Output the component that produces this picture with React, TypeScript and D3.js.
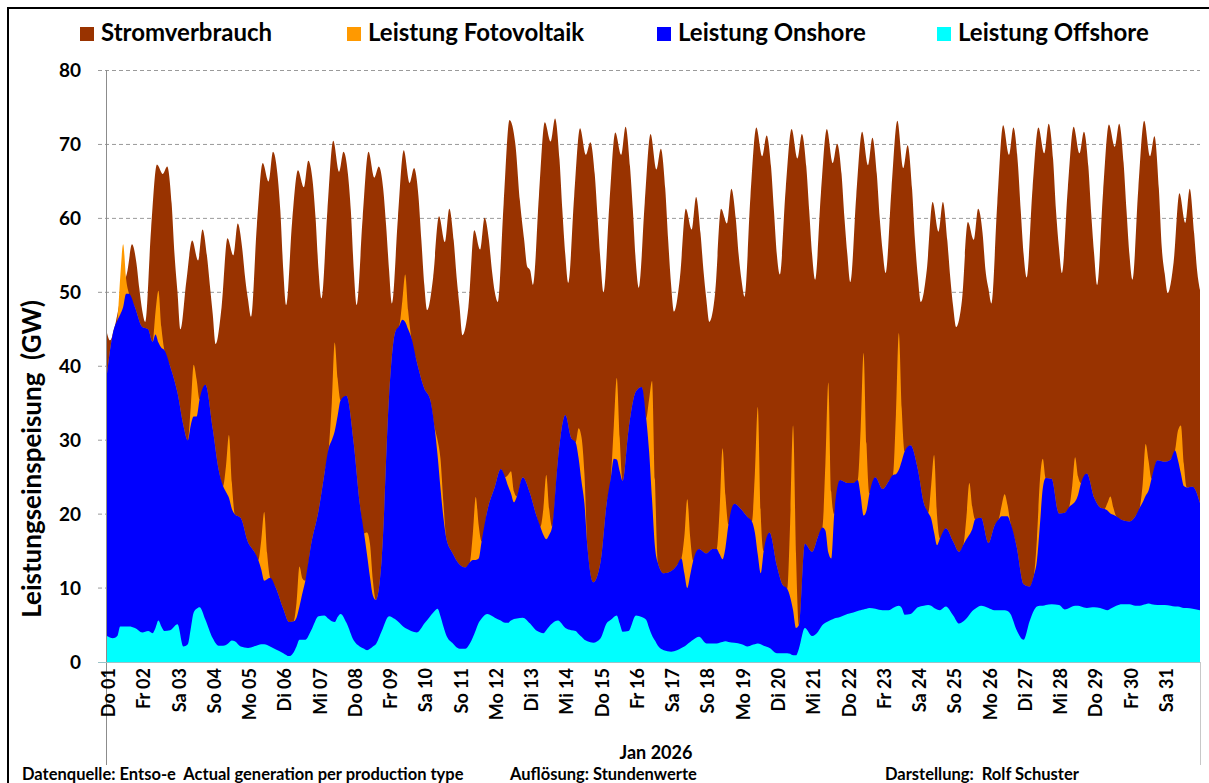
import React, { useEffect, useRef } from 'react';
import * as d3 from 'd3';

const dayLabels = ['Do 01', 'Fr 02', 'Sa 03', 'So 04', 'Mo 05', 'Di 06', 'Mi 07', 'Do 08', 'Fr 09', 'Sa 10',
  'So 11', 'Mo 12', 'Di 13', 'Mi 14', 'Do 15', 'Fr 16', 'Sa 17', 'So 18', 'Mo 19', 'Di 20', 'Mi 21',
  'Do 22', 'Fr 23', 'Sa 24', 'So 25', 'Mo 26', 'Di 27', 'Mi 28', 'Do 29', 'Fr 30', 'Sa 31'];
const yTicks = [0, 10, 20, 30, 40, 50, 60, 70, 80];
const seriesNames = ['Stromverbrauch', 'Leistung Fotovoltaik', 'Leistung Onshore', 'Leistung Offshore'];

// Stromverbrauch (GW) zu den Stunden loadHours
const loadHours = [0, 2, 6, 10, 14, 17, 20, 22];
const load = [
  [44.5, 43.5, 46, 50, 53, 56.5, 54, 50.5],
  [47.5, 46, 58.5, 67.3, 66, 67, 62, 55],
  [50, 45, 51.5, 57, 54.3, 58.5, 55, 51],
  [47, 43, 48, 57.3, 55, 59.3, 56, 52],
  [49, 46.7, 59, 67.5, 65, 69, 66, 61],
  [53, 48.3, 59.5, 66.5, 64.2, 67.8, 65, 60],
  [53, 49.2, 61, 70.5, 66.3, 69, 66, 61],
  [53, 48.3, 60, 69, 65.5, 67, 64, 59],
  [53, 48.5, 60, 69.2, 64.8, 66.8, 63, 57],
  [51, 47.6, 52, 60.3, 56.8, 61.3, 57, 52],
  [48, 44.2, 48, 58.4, 55.8, 60.1, 57, 53],
  [50, 48.7, 62, 73.3, 70, 62.5, 57, 53.5],
  [53, 51, 63, 73, 70.4, 73.5, 68, 61],
  [55, 51.3, 63, 72.2, 68.6, 70.3, 66, 60],
  [54, 50, 62, 71.6, 68.6, 72.4, 67, 61],
  [54, 50.6, 62, 71.4, 66.6, 69.4, 64, 57],
  [51, 47.4, 52, 61.3, 58.5, 62.9, 58, 53],
  [49, 46, 50, 61.3, 59.3, 64, 60, 55],
  [51.5, 49.4, 63, 72.3, 68.4, 71.2, 67, 61],
  [55, 52.4, 64, 72.1, 68.1, 71.4, 67, 61],
  [55, 51.7, 63.5, 72.1, 67.5, 70.1, 66, 60],
  [55, 51.4, 63, 71.7, 67.2, 70.9, 66, 60],
  [55.5, 52.6, 64, 73.2, 66.8, 69.9, 64, 57],
  [52, 48.7, 53, 62.2, 58.2, 62.2, 57, 52],
  [48, 45.3, 49, 59.5, 57.1, 61.3, 58, 53],
  [50.5, 48.5, 62, 72.6, 68.6, 72.3, 67.5, 61],
  [55, 52, 64, 72.3, 68.8, 72.8, 68, 61],
  [56, 52.6, 64, 72.4, 68.8, 71.7, 67, 60.5],
  [55, 51, 63.5, 72.7, 69.7, 72.8, 67.5, 61],
  [55, 51.7, 64, 73.2, 68.4, 71.1, 64, 56],
  [52.5, 49.9, 54, 63.4, 59.4, 64, 58, 53],
];
const loadEnd = 50.3;

// Erzeugung (GW) zu den Stunden genHours
const genHours = [0, 4, 7, 9, 11, 13, 15, 19];
const offshore = [
  [3.5, 3.2, 3.5, 4.8, 4.8, 4.8, 4.8, 4.6],
  [4, 4.2, 3.9, 4.6, 5.6, 4.8, 4.2, 4.3],
  [5.1, 2.1, 2.4, 4.5, 6.7, 7.2, 7.4, 5.7],
  [3.2, 2.2, 2.2, 2.3, 2.6, 2.9, 2.8, 2.1],
  [1.9, 2.1, 2.3, 2.4, 2.4, 2.3, 2.1, 1.7],
  [1.2, 0.8, 1.3, 2.1, 3, 3, 3, 4.3],
  [6.2, 6.3, 5.8, 5.5, 5.4, 6.1, 6.5, 5.3],
  [2.9, 2.1, 1.8, 1.6, 1.8, 2.1, 2.4, 4.2],
  [6.2, 5.8, 5.3, 4.9, 4.6, 4.4, 4.2, 4],
  [5.2, 6.2, 6.9, 7.2, 6.2, 4.8, 3.6, 2.6],
  [1.8, 1.8, 2.5, 3.3, 4.3, 5.3, 5.9, 6.5],
  [6, 5.6, 5.3, 5.3, 5.6, 5.8, 5.9, 6],
  [5.2, 4.3, 4, 3.9, 4.3, 4.8, 5.2, 5.6],
  [4.6, 4.3, 4.2, 3.8, 3.4, 3, 2.8, 2.6],
  [3.2, 5.2, 5.7, 6.1, 6.3, 5.2, 4.1, 4.2],
  [6.3, 6.1, 5.7, 4.6, 3.6, 2.9, 2.2, 1.6],
  [1.4, 1.6, 1.9, 2.1, 2.4, 2.7, 3, 3.4],
  [2.5, 2.5, 2.5, 2.6, 2.7, 2.8, 2.7, 2.6],
  [2.4, 2.1, 2.3, 2.4, 2.5, 2.4, 2.2, 1.9],
  [1.2, 1.2, 1.2, 1.1, 0.9, 0.9, 1.8, 4.6],
  [3.5, 4.1, 5, 5.3, 5.5, 5.7, 5.9, 6.1],
  [6.5, 6.7, 6.9, 7, 7.1, 7.2, 7.3, 7.2],
  [7, 7, 7.3, 7.5, 7.6, 7.3, 6.4, 6.5],
  [7.4, 7.6, 7.7, 7.6, 7.3, 7.1, 7, 7.5],
  [6.3, 5.2, 5.5, 5.9, 6.4, 6.9, 7.2, 7.6],
  [7.3, 7, 7, 7, 7, 6.9, 6.5, 4.4],
  [3, 5.5, 7, 7.5, 7.6, 7.6, 7.7, 7.8],
  [7.7, 7.1, 7.3, 7.5, 7.6, 7.6, 7.5, 7.3],
  [7.4, 7.3, 7.1, 7, 7.2, 7.4, 7.6, 7.8],
  [7.8, 7.6, 7.6, 7.7, 7.8, 7.9, 7.8, 7.7],
  [7.7, 7.6, 7.5, 7.5, 7.4, 7.3, 7.3, 7.2],
];
const offshoreEnd = 7;

const onshore = [
  [35.5, 41.3, 42.7, 42.2, 43.2, 45, 45, 43.4],
  [41.3, 40.8, 39.4, 39.7, 37.6, 37.7, 38, 35.7],
  [31.3, 29.9, 27.6, 27.5, 26.5, 26, 28.1, 31.8],
  [28.3, 23.8, 21.6, 20.7, 19.6, 17.8, 17.2, 17.4],
  [14.3, 12.9, 11.5, 10.1, 8.6, 8.9, 9.3, 8.3],
  [6, 4.6, 4.2, 3.9, 4.5, 6.3, 8, 11.7],
  [14.3, 19.2, 23.2, 24.5, 25.8, 27.2, 28.9, 30.7],
  [26.6, 19.4, 15.6, 12.9, 9.7, 6.9, 6, 9.8],
  [29.8, 38.7, 40.2, 41.4, 41.4, 40.6, 39.8, 36.5],
  [31.8, 29.3, 24.8, 20.8, 17.3, 14.7, 13.1, 12.2],
  [11.4, 11, 11, 10.5, 9.5, 8.7, 10.4, 14.1],
  [17.7, 20.5, 19.7, 18.5, 17.2, 15.8, 16.5, 19],
  [17.6, 15.7, 14.3, 13.3, 12.3, 12.4, 13.1, 21.9],
  [28.8, 26, 25.5, 23.8, 21, 18.4, 12.9, 8.2],
  [10.4, 16.1, 19.3, 21.4, 21.1, 20.6, 20.4, 27.2],
  [30.3, 31.1, 27.3, 23.9, 18.4, 12.7, 11.2, 10.4],
  [10.9, 11.5, 12.1, 9.9, 7.6, 9.1, 10.7, 11.9],
  [12.2, 12.8, 12.8, 12, 11.2, 12.7, 15.9, 18.8],
  [18.2, 17.5, 16.7, 15.1, 12, 9.6, 12.8, 15.6],
  [11.8, 9.2, 8.7, 7.7, 6.1, 3.7, 3.2, 11.4],
  [11.4, 12.9, 13.2, 12.5, 9.3, 8.3, 14.1, 18.5],
  [17.7, 17.5, 17.7, 15.5, 12.7, 13.3, 15.5, 17.8],
  [16.4, 17.4, 18, 17.9, 18.4, 19.9, 22.1, 22.8],
  [18.6, 13.9, 12.5, 11.8, 10.2, 8.7, 9.7, 10.6],
  [10, 9.7, 10.4, 10.7, 10.8, 11.1, 12.1, 11.9],
  [8.8, 11.4, 12.3, 12.7, 12.7, 12.8, 12.3, 11.4],
  [7.5, 4.7, 4.8, 6.2, 10.9, 15.9, 17.2, 17],
  [12.4, 13.1, 13.7, 13.8, 14.1, 15, 16.7, 18.2],
  [14.8, 13.6, 13.6, 13.5, 12.9, 12.5, 12.1, 11.4],
  [11.2, 12.1, 13.3, 13.9, 14.7, 15.3, 17, 19.6],
  [19.4, 19.8, 21.1, 19.8, 18.1, 16.5, 16.3, 16.5],
];
const onshoreEnd = 14.5;

// Fotovoltaik (GW) um 9, 11 und 13 Uhr, sonst 0
const pvHours = [9, 11, 13];
const pv = [
  [5, 8.5, 2], [3, 7, 2.8], [2.5, 7, 5], [3.5, 8.5, 3.5], [4, 9.3, 3.5], [2, 5.4, 2],
  [5, 12, 5], [3, 4.5, 2], [2.5, 6.4, 2.5], [2, 4, 2], [3.5, 8.5, 4.5], [1.5, 3, 1.5],
  [3.5, 8.7, 3.5], [4, 6, 4], [4.5, 11, 4.5], [7, 16, 9], [5, 12, 5], [6, 15, 7],
  [8, 20, 8], [10, 25, 10], [9, 23, 9], [9, 22, 9], [8, 18.5, 7], [4.5, 10.5, 4],
  [3, 7, 3], [1.5, 3, 1.5], [3, 6, 4], [2.5, 6, 2.5], [1, 2.3, 1], [2.5, 7, 4], [4, 6.5, 3],
];

const colors = ['#993300', '#ff9900', '#0000ff', '#00ffff'];
const font = "Lato, 'Open Sans', Arial, sans-serif";

function Chart() {
  const ref = useRef<SVGSVGElement>(null);

  useEffect(() => {
    const svg = d3.select(ref.current);
    svg.selectAll('*').remove();

    const nDays = dayLabels.length;
    const x = d3.scaleLinear().domain([0, nDays * 24]).range([107, 1200]);
    const y = d3.scaleLinear().domain([0, 80]).range([662, 70.5]);

    const loadData: { t: number; v: number }[] = [];
    load.forEach((row, d) => row.forEach((v, i) => loadData.push({ t: d * 24 + loadHours[i], v })));
    loadData.push({ t: nDays * 24, v: loadEnd });

    const genData: { t: number; offshore: number; onshore: number; pv: number }[] = [];
    for (let d = 0; d < nDays; d++) {
      genHours.forEach((h, i) => {
        const pi = pvHours.indexOf(h);
        genData.push({
          t: d * 24 + h,
          offshore: offshore[d][i],
          onshore: onshore[d][i],
          pv: pi >= 0 ? pv[d][pi] : 0,
        });
      });
    }
    genData.push({ t: nDays * 24, offshore: offshoreEnd, onshore: onshoreEnd, pv: 0 });

    const stack = d3.stack<any>().keys(['offshore', 'onshore', 'pv']);
    const layers = stack(genData as any);

    svg.append('rect').attr('x', 0).attr('y', 0).attr('width', 1209).attr('height', 783).attr('fill', 'white');
    svg.append('rect')
      .attr('x', 8).attr('y', 8).attr('width', 1230).attr('height', 800)
      .attr('fill', 'none').attr('stroke', 'black').attr('stroke-width', 2);

    // gridlines
    svg.append('g')
      .selectAll('line')
      .data(yTicks.filter(v => v > 0))
      .join('line')
        .attr('x1', 98).attr('x2', 1200)
        .attr('y1', d => y(d)).attr('y2', d => y(d))
        .attr('stroke', '#9a9a9a').attr('stroke-width', 1)
        .attr('stroke-dasharray', '4,3');

    // areas
    const loadArea = d3.area<{ t: number; v: number }>()
      .x(d => x(d.t)).y0(y(0)).y1(d => y(d.v))
      .curve(d3.curveMonotoneX);
    svg.append('path').datum(loadData).attr('d', loadArea).attr('fill', colors[0]);

    const genArea = d3.area<any>()
      .x(d => x(d.data.t)).y0(y(0)).y1(d => y(d[1]))
      .curve(d3.curveMonotoneX);
    const layerColor: Record<string, string> = { pv: colors[1], onshore: colors[2], offshore: colors[3] };
    [...layers].reverse().forEach(layer => {
      svg.append('path').datum(layer).attr('d', genArea).attr('fill', layerColor[layer.key]);
    });

    // axis lines
    svg.append('line').attr('x1', 106.5).attr('x2', 106.5).attr('y1', 70).attr('y2', 765)
      .attr('stroke', '#8c8c8c').attr('stroke-width', 1);
    svg.append('line').attr('x1', 98).attr('x2', 1200).attr('y1', 662.5).attr('y2', 662.5)
      .attr('stroke', '#9cc3c8').attr('stroke-width', 1.2);
    svg.append('line').attr('x1', 1200.5).attr('x2', 1200.5).attr('y1', 662).attr('y2', 765)
      .attr('stroke', '#c8c8c8').attr('stroke-width', 1);

    // y labels
    svg.append('g')
      .selectAll('text')
      .data(yTicks)
      .join('text')
        .attr('x', 81).attr('y', d => y(d)).attr('dy', '0.36em')
        .attr('text-anchor', 'end')
        .style('font-family', font).style('font-weight', 700).style('font-size', '19px')
        .text(d => d);

    // x labels
    svg.append('g')
      .selectAll('text')
      .data(dayLabels)
      .join('text')
        .attr('transform', (d, i) => `translate(${x(i * 24)},668) rotate(-90)`)
        .attr('dy', '0.45em')
        .attr('text-anchor', 'end')
        .style('font-family', font).style('font-weight', 700).style('font-size', '18px')
        .text(d => d);

    // y title
    svg.append('text')
      .attr('transform', 'translate(41,459) rotate(-90)')
      .attr('text-anchor', 'middle')
      .style('font-family', font).style('font-weight', 700).style('font-size', '26px')
      .style('white-space', 'pre')
      .text('Leistungseinspeisung  (GW)');

    // legend
    const legendX = [80, 347, 657, 937];
    const legend = svg.append('g')
      .selectAll('g')
      .data(seriesNames)
      .join('g')
        .attr('transform', (d, i) => `translate(${legendX[i]},27)`);
    legend.append('rect').attr('width', 14).attr('height', 14).attr('fill', (d, i) => colors[i]);
    legend.append('text').attr('x', 21).attr('y', 14)
      .style('font-family', font).style('font-weight', 700).style('font-size', '24px')
      .text(d => d);

    // footer
    const foot = [
      { x: 656, y: 759, anchor: 'middle', size: 18, text: 'Jan 2026' },
      { x: 22, y: 780, anchor: 'start', size: 16.5, text: 'Datenquelle: Entso-e  Actual generation per production type' },
      { x: 510, y: 780, anchor: 'start', size: 16.5, text: 'Auflösung: Stundenwerte' },
      { x: 885, y: 780, anchor: 'start', size: 16.5, text: 'Darstellung:  Rolf Schuster' },
    ];
    svg.append('g')
      .selectAll('text')
      .data(foot)
      .join('text')
        .attr('x', d => d.x).attr('y', d => d.y)
        .attr('text-anchor', d => d.anchor)
        .style('font-family', font).style('font-weight', 700).style('font-size', d => d.size + 'px')
        .style('white-space', 'pre')
        .text(d => d.text);
  });

  return (
    <svg ref={ref} width={1209} height={783}
      style={{ position: 'absolute', left: 0, top: 0, display: 'block' }} />
  );
}

export default function App() {
  return <Chart />;
}
